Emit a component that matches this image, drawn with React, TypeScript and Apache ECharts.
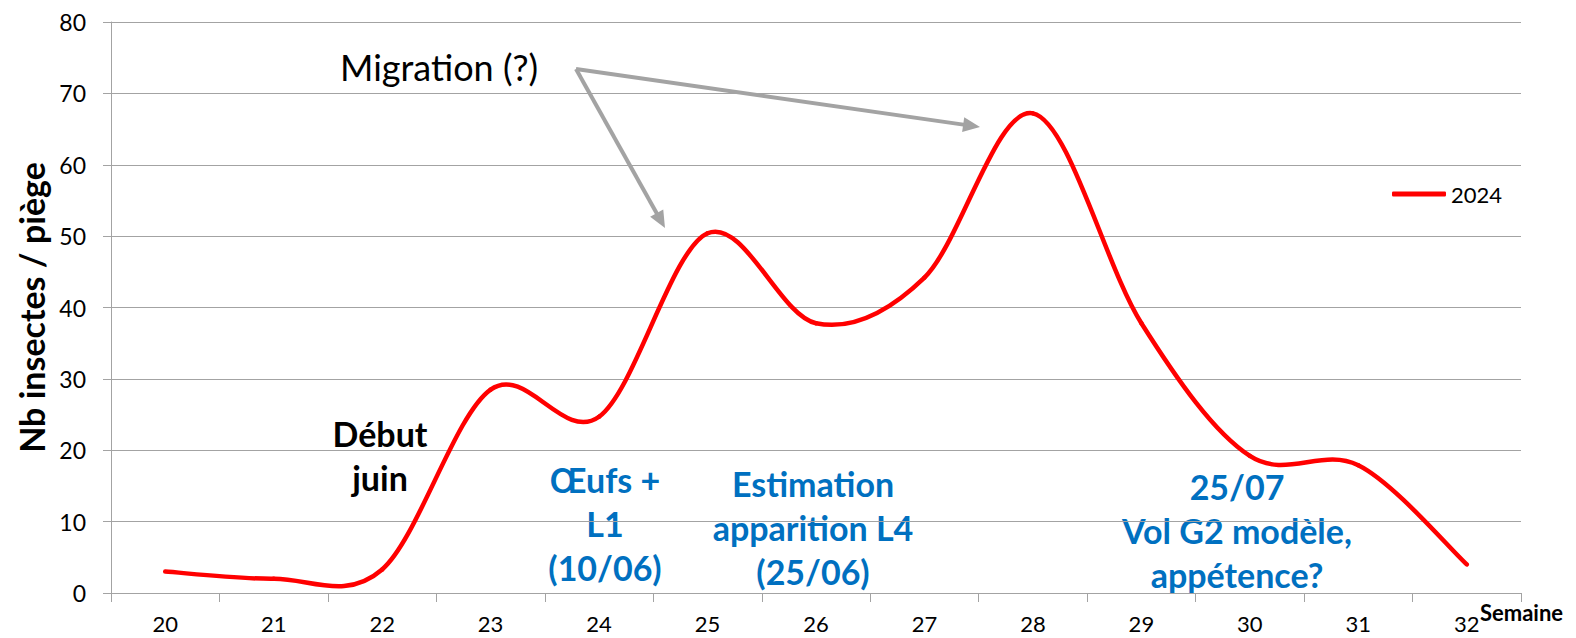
import React, { useEffect, useRef } from "react";
import * as echarts from "echarts";

const weeks = ["20", "21", "22", "23", "24", "25", "26", "27", "28", "29", "30", "31", "32"];
const counts2024 = [3, 2, 3.3, 28.5, 24.7, 50.4, 37.8, 44.2, 67.2, 37.8, 19.2, 17.9, 4];
const seriesName = "2024";
const yMin = 0;
const yMax = 80;
const yStep = 10;
const yTitle = "Nb insectes / piège";
const xTitle = "Semaine";

const FONT = "Lato, 'Open Sans', sans-serif";
const GRAY = "#A3A3A3";
const BLUE = "#0070C0";
const RED = "#FF0000";

function arrow(x1: number, y1: number, x2: number, y2: number) {
  const len = Math.hypot(x2 - x1, y2 - y1);
  const ux = (x2 - x1) / len;
  const uy = (y2 - y1) / len;
  const hl = 17;
  const hw = 7.5;
  const bx = x2 - ux * hl;
  const by = y2 - uy * hl;
  return [
    {
      type: "line",
      shape: { x1, y1, x2: bx + ux * 2, y2: by + uy * 2 },
      style: { stroke: GRAY, lineWidth: 4 },
    },
    {
      type: "polygon",
      shape: {
        points: [
          [x2, y2],
          [bx - uy * hw, by + ux * hw],
          [bx + uy * hw, by - ux * hw],
        ],
      },
      style: { fill: GRAY },
    },
  ];
}

function label(text: string, x: number, y: number, color: string, bold: boolean, size: number, align = "center") {
  return {
    type: "text",
    x,
    y,
    style: {
      text,
      fill: color,
      fontFamily: FONT,
      fontSize: size,
      fontWeight: bold ? "bold" : "normal",
      lineHeight: 44,
      align,
      textAlign: align,
      verticalAlign: "middle",
      textVerticalAlign: "middle",
    },
  };
}

export default function App() {
  const ref = useRef<HTMLDivElement>(null);
  useEffect(() => {
    if (!ref.current) return;
    const chart = echarts.init(ref.current, undefined, { renderer: "svg" });
    chart.setOption({
      animation: false,
      backgroundColor: "#fff",
      grid: { left: 111, right: 55, top: 22, bottom: 45, containLabel: false, outerBoundsMode: "none" },
      legend: {
        data: [{ name: seriesName, icon: "roundRect" }],
        left: 1392,
        top: 183,
        padding: 0,
        itemWidth: 54,
        itemHeight: 5,
        itemStyle: { color: RED },
        textStyle: { fontFamily: FONT, fontSize: 22, color: "#000", lineHeight: 22 },
      },
      xAxis: {
        type: "category",
        data: weeks,
        boundaryGap: true,
        axisLine: { show: true, lineStyle: { color: GRAY, width: 1 } },
        axisTick: { show: true, length: 9, lineStyle: { color: GRAY } },
        axisLabel: { interval: 0, margin: 21, lineHeight: 18, fontFamily: FONT, fontSize: 22, color: "#000" },
        splitLine: { show: false },
      },
      yAxis: {
        type: "value",
        min: yMin,
        max: yMax,
        interval: yStep,
        name: yTitle,
        nameLocation: "middle",
        nameGap: 63,
        nameTextStyle: { fontFamily: FONT, fontSize: 34, fontWeight: "bold", color: "#000" },
        axisLine: { show: true, lineStyle: { color: GRAY, width: 1 } },
        axisTick: { show: true, length: 8, lineStyle: { color: GRAY } },
        axisLabel: { margin: 25, fontFamily: FONT, fontSize: 23, color: "#000" },
        splitLine: { show: true, lineStyle: { color: GRAY, width: 1 } },
      },
      series: [
        {
          name: seriesName,
          type: "custom",
          coordinateSystem: "cartesian2d",
          data: counts2024.map((v, i) => [i, v]),
          encode: { x: 0, y: 1 },
          itemStyle: { color: RED },
          renderItem: (params: any, api: any) => {
            const i = params.dataIndexInside;
            const n = params.dataInsideLength;
            if (i >= n - 1) return { type: "group", children: [] };
            const pt = (k: number) => {
              const kk = Math.max(0, Math.min(n - 1, k));
              return api.coord([api.value(0, kk), api.value(1, kk)]);
            };
            const p0 = pt(i - 1);
            const p1 = pt(i);
            const p2 = pt(i + 1);
            const p3 = pt(i + 2);
            return {
              type: "bezierCurve",
              shape: {
                x1: p1[0],
                y1: p1[1],
                x2: p2[0],
                y2: p2[1],
                cpx1: p1[0] + (p2[0] - p0[0]) / 6,
                cpy1: p1[1] + (p2[1] - p0[1]) / 6,
                cpx2: p2[0] - (p3[0] - p1[0]) / 6,
                cpy2: p2[1] - (p3[1] - p1[1]) / 6,
              },
              style: { stroke: RED, lineWidth: 4.5, fill: "none", lineCap: "round" },
            };
          },
        },
      ],
      graphic: [
        label(xTitle, 1480, 612, "#000", true, 22, "left"),
        label("Migration (?)", 340, 67, "#000", false, 36, "left"),
        ...arrow(576, 69, 665, 228),
        ...arrow(576, 69, 980, 127),
        label("Début\njuin", 380, 455, "#000", true, 34),
        label("Œufs +\nL1\n(10/06)", 605, 523, BLUE, true, 34),
        label("Estimation\napparition L4\n(25/06)", 813, 527, BLUE, true, 34),
        label("25/07\nVol G2 modèle,\nappétence?", 1237, 530, BLUE, true, 34),
      ],
    });
    return () => chart.dispose();
  }, []);
  return <div ref={ref} style={{ position: "fixed", left: 0, top: 0, width: 1576, height: 638 }} />;
}
